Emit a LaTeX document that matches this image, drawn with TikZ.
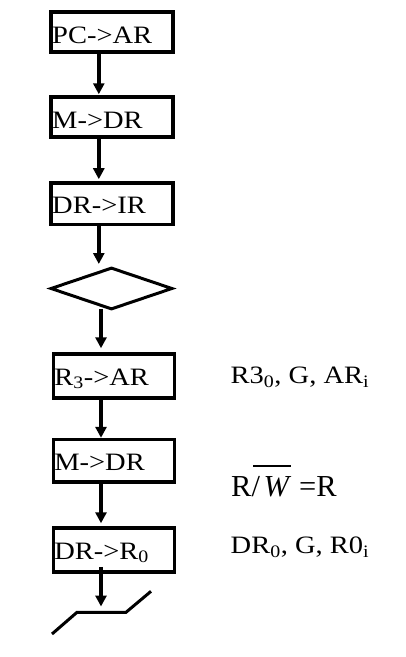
\documentclass[tikz,border=0pt]{standalone}
\usepackage{fontspec}
\setmainfont[FakeStretch=1.14]{Liberation Serif}
\newfontfamily\plainserif{Liberation Serif}
\usetikzlibrary{arrows.meta,shapes.geometric}
\begin{document}
\begin{tikzpicture}[x=1pt,y=-1pt,
  txt/.style={font=\fontsize{25}{30}\selectfont},
  stepbox/.style={draw,line width=3.5pt,text width=#1,inner xsep=1pt,inner ysep=0pt,
    align=left,text height=18.5pt,text depth=0pt,txt},
  stepbox/.default=120pt,
  arr/.style={line width=3.8pt,-{Triangle[length=11pt,width=11pt]}},
  note/.style={anchor=base west,inner sep=0pt,txt}]
\fill[white] (0,0) rectangle (406,657);
\useasboundingbox (0,0) rectangle (406,657);

% instruction fetch
\node[stepbox,minimum height=40pt,text height=22.6pt] (b1) at (112.2,32) {PC->AR};
\node[stepbox,minimum height=40pt,text height=22pt] (b2) at (112.2,117) {M->DR};
\node[stepbox,minimum height=41.7pt] (b3) at (112.2,203.8) {DR->IR};
\node[draw,diamond,line width=3pt,minimum width=122pt,minimum height=42pt,inner sep=0pt] (d) at (111.5,288.5) {};

% operand transfer
\node[stepbox=119pt,minimum height=44pt] (b4) at (113.8,376) {R\textsubscript{3}->AR};
\node[stepbox=119pt,minimum height=42.5pt] (b5) at (113.8,460.8) {M->DR};
\node[stepbox=119pt,minimum height=44pt] (b6) at (113.8,550) {DR->R\textsubscript{0}};

% end-of-sequence marker
\coordinate (e1) at (52,634);
\coordinate (e2) at (77,612.3);
\coordinate (e3) at (126,612.3);
\coordinate (e4) at (151,591.3);
\coordinate (stop) at (101,606.5);
\draw[line width=3pt] (e1) -- (e2) -- (e3) -- (e4);

% control signals
\node[note] (s1) at (230.5,383.3) {R3\textsubscript{0}, G, AR\textsubscript{i}};
\node[note,font=\plainserif\fontsize{30.5}{34}\selectfont] (s2) at (231,496.7)
  {R/\kern-6.8pt\rlap{\rule[30pt]{37.7pt}{2pt}}\kern10.3pt{\itshape W}\kern2.5pt\ =R};
\node[note] (s3) at (230.5,553.3) {DR\textsubscript{0}, G, R0\textsubscript{i}};

% flow arrows
\draw[arr] ([xshift=-13.4pt]b1.south) -- ([xshift=-13.4pt,yshift=1pt]b2.north);
\draw[arr] ([xshift=-13.4pt]b2.south) -- ([xshift=-13.4pt,yshift=2pt]b3.north);
\draw[arr] ([xshift=-13.4pt]b3.south) -- ([xshift=-12.7pt,yshift=2pt]d.north);
\draw[arr] ([xshift=-10.5pt,yshift=2pt]d.south) -- ([xshift=-12.8pt,yshift=4pt]b4.north);
\draw[arr] ([xshift=-12.8pt,yshift=1pt]b4.south) -- ([xshift=-12.8pt]b5.north);
\draw[arr] ([xshift=-12.8pt]b5.south) -- ([xshift=-12.8pt,yshift=3pt]b6.north);
\draw[arr] ([xshift=-12.8pt,yshift=7pt]b6.south) -- (stop);
\end{tikzpicture}
\end{document}
